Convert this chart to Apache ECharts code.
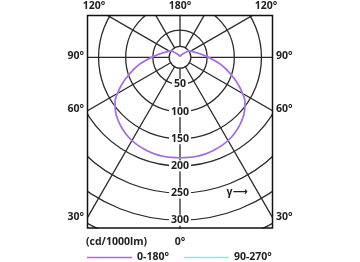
<!DOCTYPE html>
<html>
<head>
<meta charset="utf-8">
<script src="https://cdn.jsdelivr.net/npm/echarts@6/dist/echarts.min.js"></script>
<style>
html,body{margin:0;padding:0;background:#fff;}
#chart{width:360px;height:262px;}
</style>
</head>
<body>
<div id="chart"></div>
<script>
// Gamma angles (deg) and luminous intensity (cd/1000lm)
const gammaAngles = [0,5,10,15,20,25,30,35,40,45,50,55,60,65,70,75,80,85,90,95,100,105,110,115,120,125,130,135,140,145,150,155,160,165,170,175,180];
const intensity0_180 = [185,185,185,184,182,180,177,173,168,162,155,146,133,118,103,89,76,63,52,44,37,32,28,25,23,20,15,11,8,6,5,4,3,2,2,1,1];
const intensity90_270 = [185,185,185,184,182,180,177,173,168,162,155,146,133,118,103,89,76,63,52,44,37,32,28,25,23,20,15,11,8,6,5,4,3,2,2,1,1];
const seriesNames = ['0-180°','90-270°'];
const seriesColors = ['#b066ea','#8fe6e3'];
const radiusTicks = [50,100,150,200,250,300];
const angleLabelValues = [180,120,90,60,30,0];
const angleLabelTexts = ['180°','120°','90°','60°','30°','0°'];
const unitLabel = '(cd/1000lm)';
const gammaLabel = 'γ⟶';

// layout
const cx = 180, cy = 57.3, k = 0.543;
const rMax = 400, rInner = 20;
const box = {l: 87, t: 15, r: 273, b: 228.5};
const FAM = '"Open Sans", "Noto Sans", "DejaVu Sans", sans-serif';
const FONT = 'bold 10.5px ' + FAM;
const TXT = '#222';
const GRID = '#2a2a2a';

function mirrorData(vals){
  const d = [];
  for (let i = 0; i < gammaAngles.length; i++) d.push([vals[i], gammaAngles[i]]);
  for (let i = gammaAngles.length - 1; i >= 0; i--) d.push([vals[i], 360 - gammaAngles[i]]);
  return d;
}

const chart = echarts.init(document.getElementById('chart'), null, {renderer:'canvas'});

const graphics = [];
graphics.push({type:'rect', z:50, silent:true, shape:{x:0,y:0,width:360,height:box.t}, style:{fill:'#fff'}});
graphics.push({type:'rect', z:50, silent:true, shape:{x:0,y:0,width:box.l,height:262}, style:{fill:'#fff'}});
graphics.push({type:'rect', z:50, silent:true, shape:{x:box.r,y:0,width:360-box.r,height:262}, style:{fill:'#fff'}});
graphics.push({type:'rect', z:50, silent:true, shape:{x:0,y:box.b,width:360,height:262-box.b}, style:{fill:'#fff'}});
graphics.push({type:'rect', z:55, silent:true, shape:{x:box.l+0.5,y:box.t+0.5,width:box.r-box.l-1,height:box.b-box.t-1}, style:{fill:null, stroke:'#111', lineWidth:1.5}});

function addText(text, x, y, align, z){
  graphics.push({type:'text', z:z || 60, silent:true, x:x, y:y,
    style:{text:text, fill:TXT, font:FONT, align:align, verticalAlign:'middle'}});
}
angleLabelValues.forEach((g, i) => {
  const t = angleLabelTexts[i];
  if (g === 180) { addText(t, cx, 6, 'center'); return; }
  if (g === 0) { addText(t, cx, 242.5, 'center'); return; }
  if (g > 90) { addText(t, box.l + 7, 6, 'center'); addText(t, box.r - 7, 6, 'center'); return; }
  const rad = g * Math.PI / 180;
  const tt = (cx - box.l) / Math.sin(rad);
  const y = cy + tt * Math.cos(rad) - 1.5;
  addText(t, box.l - 3, y, 'right');
  addText(t, box.r + 3, y, 'left');
});
addText(unitLabel, box.l - 1, 242.5, 'left');
addText(gammaLabel, 237, 192, 'center', 40);

const option = {
  animation:false,
  polar:[
    {center:[cx, cy], radius:[0, rMax * k]},
    {center:[cx, cy], radius:[rInner * k, rMax * k]}
  ],
  angleAxis:[
    {polarIndex:0, type:'value', min:0, max:360, startAngle:270, clockwise:true,
     axisLine:{show:false}, axisTick:{show:false}, axisLabel:{show:false}, splitLine:{show:false}},
    {polarIndex:1, type:'value', min:0, max:360, interval:30, startAngle:270, clockwise:true,
     axisLine:{show:false}, axisTick:{show:false}, axisLabel:{show:false},
     splitLine:{show:true, lineStyle:{color:GRID, width:1.3}}}
  ],
  radiusAxis:[
    {polarIndex:0, type:'value', min:0, max:rMax, interval:50, z:5,
     axisLine:{show:false}, axisTick:{show:false},
     axisLabel:{show:true, margin:0, align:'center', verticalAlign:'middle',
       color:TXT, fontFamily:FAM, fontSize:10.5, fontWeight:'bold',
       backgroundColor:'#fff', padding:[0,2],
       formatter: v => radiusTicks.indexOf(v) >= 0 ? String(v) : ''},
     splitLine:{show:true, lineStyle:{color:GRID, width:1.3}}},
    {polarIndex:1, type:'value', min:0, max:1, interval:1,
     axisLine:{show:false}, axisTick:{show:false}, axisLabel:{show:false},
     splitLine:{show:true, lineStyle:{color:GRID, width:1.3}}}
  ],
  legend:{
    z:100, left:box.l, top:252, padding:0, itemWidth:45, itemHeight:1.4, itemGap:15, icon:'rect',
    textStyle:{color:TXT, fontFamily:FAM, fontSize:10.5, fontWeight:'bold'},
    data:seriesNames.map((n, i) => ({name:n,
      itemStyle:{color:seriesColors[i], borderColor:seriesColors[i], borderWidth:0, opacity:1},
      lineStyle:{color:seriesColors[i], width:0}}))
  },
  graphic:{elements:graphics},
  series:[
    {name:seriesNames[1], type:'line', coordinateSystem:'polar', polarIndex:0, z:10,
     symbol:'none', smooth:true, clip:false,
     lineStyle:{color:seriesColors[1], width:1.5}, itemStyle:{color:seriesColors[1]},
     data:mirrorData(intensity90_270)},
    {name:seriesNames[0], type:'line', coordinateSystem:'polar', polarIndex:0, z:11,
     symbol:'none', smooth:true, clip:false,
     lineStyle:{color:seriesColors[0], width:1.6}, itemStyle:{color:seriesColors[0]},
     data:mirrorData(intensity0_180)}
  ]
};
chart.setOption(option);
</script>
</body>
</html>
